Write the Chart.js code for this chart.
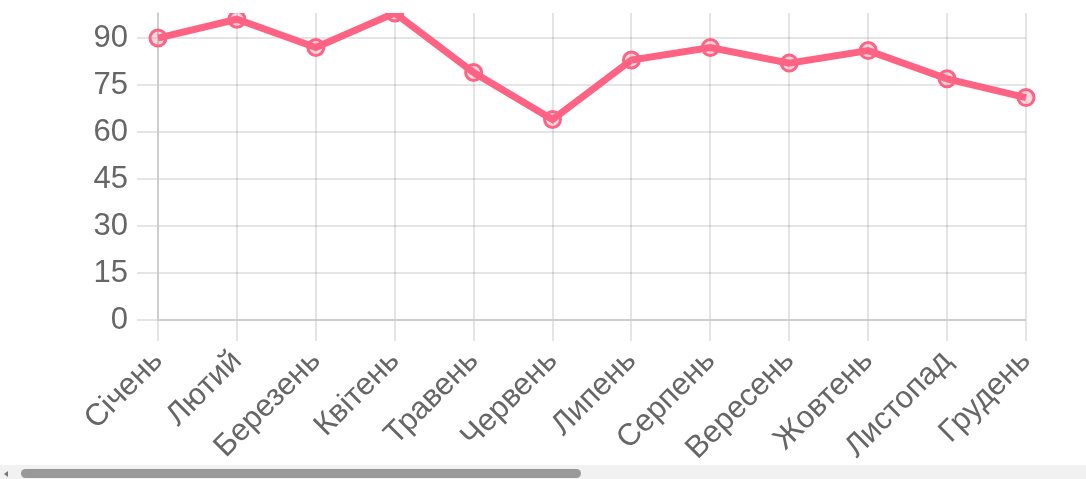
<!DOCTYPE html>
<html>
<head>
<meta charset="utf-8">
<script src="https://cdn.jsdelivr.net/npm/chart.js@4/dist/chart.umd.min.js"></script>
<style>
  html, body { margin: 0; padding: 0; background: #fff; overflow: hidden; }
  #wrap { position: relative; width: 1086px; height: 465px; }
  #track { position: absolute; left: 0; top: 465px; width: 1086px; height: 14px; background: #f1f1f1; }
  #thumb { position: absolute; left: 21px; top: 4px; width: 560px; height: 9px; background: #999; border-radius: 5px; }
  #arrow { position: absolute; left: 4px; top: 6px; width: 0; height: 0;
           border-top: 3px solid transparent; border-bottom: 3px solid transparent; border-right: 4px solid #777; }
</style>
</head>
<body>
<div id="wrap"><canvas id="grafica"></canvas></div>
<div id="track"><div id="arrow"></div><div id="thumb"></div></div>
<script>
var meses = ['Січень','Лютий','Березень','Квітень','Травень','Червень','Липень','Серпень','Вересень','Жовтень','Листопад','Грудень'];
var valores = [90, 96, 87, 98, 79, 64, 83, 87, 82, 86, 77, 71];
var yMin = 0;
var yMax = 98;
var yPaso = 15;

var grafica = document.getElementById('grafica');
var fuente = { family: 'Helvetica, Arial, sans-serif', size: 31 };

var data = {
    labels: meses,
    datasets: [{
        label: 'Дані',
        data: valores,
        borderColor: 'rgb(255,99,132)',
        backgroundColor: 'rgba(255,99,132,0.25)',
        pointBackgroundColor: 'rgba(255,99,132,0.25)',
        pointBorderColor: 'rgb(255,99,132)',
        borderWidth: 7,
        pointRadius: 8,
        pointBorderWidth: 3,
        fill: false,
        tension: 0
    }]
};

var myLineChart = new Chart(grafica, {
    type: 'line',
    data: data,
    options: {
        responsive: true,
        maintainAspectRatio: false,
        animation: false,
        layout: { padding: { left: 0, right: 60, top: 13, bottom: 0 } },
        plugins: { legend: { display: false }, tooltip: { enabled: false } },
        scales: {
            x: {
                offset: false,
                grid: { color: 'rgba(0,0,0,0.1)', lineWidth: 2, tickLength: 21 },
                border: { color: 'rgba(0,0,0,0.1)', width: 2 },
                ticks: { color: '#666', font: fuente, maxRotation: 45, minRotation: 45, padding: 2 },
                afterFit: function(axis){ axis.height = 145; axis.paddingLeft = 0; axis.paddingRight = 0; }
            },
            y: {
                min: yMin,
                max: yMax,
                grid: { color: 'rgba(0,0,0,0.1)', lineWidth: 2, tickLength: 21 },
                border: { color: 'rgba(0,0,0,0.1)', width: 2 },
                ticks: { color: '#666', font: fuente, stepSize: yPaso, includeBounds: false, padding: 9 },
                afterFit: function(axis){ axis.width = 158; axis.paddingTop = 0; axis.paddingBottom = 0; }
            }
        }
    }
});
</script>
</body>
</html>
